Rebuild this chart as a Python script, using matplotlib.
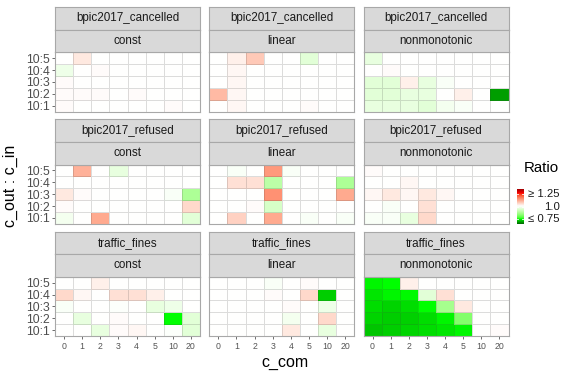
import numpy as np
import matplotlib
matplotlib.use("Agg")
import matplotlib.pyplot as plt
from matplotlib.colors import ListedColormap, Normalize

# ---------------- data ----------------
datasets = ["bpic2017_cancelled", "bpic2017_refused", "traffic_fines"]
methods = ["const", "linear", "nonmonotonic"]
c_com = ["0", "1", "2", "3", "4", "5", "10", "20"]
c_ratio = ["10:5", "10:4", "10:3", "10:2", "10:1"]   # top to bottom

canc_const = [[1.00, 1.03, 1.00, 1.00, 1.00, 1.00, 1.00, 1.00],
              [0.97, 1.00, 1.005, 1.00, 1.00, 1.00, 1.00, 1.00],
              [1.005, 1.00, 1.00, 1.00, 1.00, 1.00, 1.00, 1.00],
              [1.005, 1.005, 1.005, 1.00, 1.005, 1.00, 1.00, 1.00],
              [1.005, 1.00, 1.00, 1.00, 1.00, 1.00, 1.005, 1.00]]
canc_linear = [[1.00, 1.02, 1.07, 1.00, 1.00, 0.95, 1.00, 1.00],
               [1.00, 1.01, 1.00, 1.00, 1.00, 1.00, 1.00, 1.00],
               [1.00, 1.01, 1.00, 1.00, 1.00, 1.00, 1.00, 1.00],
               [1.09, 1.01, 1.00, 1.00, 1.00, 1.00, 1.00, 1.00],
               [1.00, 1.01, 1.00, 1.00, 1.00, 1.005, 1.00, 1.00]]
canc_nonmono = [[0.96, 1.00, 1.00, 1.00, 1.00, 1.00, 1.00, 1.00],
                [1.00, 1.005, 1.00, 1.00, 1.00, 1.00, 1.00, 1.00],
                [0.95, 0.95, 1.02, 0.96, 0.99, 1.00, 1.00, 1.00],
                [0.95, 0.95, 0.96, 0.96, 1.00, 1.02, 1.00, 0.69],
                [0.96, 0.96, 0.96, 0.95, 0.98, 0.99, 1.00, 1.00]]
ref_const = [[1.00, 1.10, 1.00, 0.96, 1.00, 1.00, 1.00, 1.00],
             [1.00, 1.00, 1.00, 1.00, 1.00, 1.00, 1.00, 1.00],
             [1.03, 1.005, 1.00, 1.00, 1.00, 1.00, 0.99, 0.87],
             [1.005, 1.00, 1.00, 1.00, 1.00, 1.00, 1.00, 1.05],
             [0.98, 1.00, 1.11, 1.00, 1.00, 1.00, 1.00, 0.95]]
ref_linear = [[1.00, 0.99, 1.00, 1.13, 0.99, 1.00, 1.00, 1.00],
              [1.00, 1.04, 1.04, 0.89, 1.00, 1.00, 1.00, 0.87],
              [1.00, 1.00, 1.00, 1.14, 1.00, 1.00, 1.00, 1.11],
              [1.00, 1.00, 1.005, 0.93, 1.00, 1.00, 1.00, 1.00],
              [1.00, 1.06, 1.00, 1.11, 1.00, 0.99, 1.00, 0.99]]
ref_nonmono = [[1.005, 1.00, 1.00, 1.00, 1.00, 1.00, 1.00, 1.00],
               [1.00, 1.00, 1.01, 1.00, 1.00, 1.00, 1.00, 1.00],
               [1.01, 1.03, 1.01, 1.03, 1.01, 1.00, 1.00, 1.00],
               [1.00, 0.99, 1.00, 1.04, 1.00, 1.00, 1.00, 1.00],
               [0.99, 0.99, 0.96, 1.05, 1.00, 1.00, 1.00, 1.00]]
traf_const = [[1.00, 1.00, 1.02, 1.00, 1.00, 1.00, 1.00, 1.00],
              [1.05, 1.01, 1.00, 1.04, 1.04, 1.02, 1.00, 1.00],
              [0.99, 1.00, 1.00, 0.995, 1.00, 0.96, 0.97, 1.00],
              [1.00, 0.96, 1.00, 1.005, 1.00, 1.00, 0.75, 0.95],
              [1.00, 1.00, 0.96, 1.005, 1.01, 1.00, 0.995, 0.95]]
traf_linear = [[1.00, 1.00, 1.00, 0.99, 1.00, 1.005, 1.00, 1.00],
               [1.00, 1.00, 1.00, 1.005, 1.00, 1.05, 0.72, 1.00],
               [1.00, 1.00, 1.00, 1.00, 1.005, 1.00, 0.97, 1.00],
               [1.00, 1.00, 1.00, 1.00, 0.98, 1.00, 1.05, 1.00],
               [1.00, 1.00, 1.00, 1.00, 1.03, 1.00, 0.96, 1.00]]
traf_nonmono = [[0.745, 0.75, 1.02, 1.00, 1.00, 1.00, 1.00, 1.00],
                [0.735, 0.745, 0.748, 0.95, 1.04, 1.00, 1.00, 1.00],
                [0.73, 0.725, 0.73, 0.75, 0.86, 1.03, 1.00, 1.00],
                [0.725, 0.72, 0.722, 0.73, 0.745, 0.82, 1.00, 1.00],
                [0.715, 0.72, 0.725, 0.73, 0.735, 0.745, 1.00, 1.005]]

panels = [[canc_const, canc_linear, canc_nonmono],
          [ref_const, ref_linear, ref_nonmono],
          [traf_const, traf_linear, traf_nonmono]]

legend_breaks = [0.75, 1.0, 1.25]
legend_labels = ["\u2264 0.75", "1.0", "\u2265 1.25"]

# ---------------- colour scale (Lab interpolation like ggplot) ----------------
def hex2rgb(h):
    h = h.lstrip("#")
    return np.array([int(h[i:i + 2], 16) / 255 for i in (0, 2, 4)])

M = np.array([[0.4124564, 0.3575761, 0.1804375],
              [0.2126729, 0.7151522, 0.0721750],
              [0.0193339, 0.1191920, 0.9503041]])
WHITE = np.array([0.95047, 1.0, 1.08883])

def rgb2lab(c):
    lin = np.where(c <= 0.04045, c / 12.92, ((c + 0.055) / 1.055) ** 2.4)
    xyz = M @ lin / WHITE
    f = np.where(xyz > 216 / 24389, np.cbrt(xyz), (24389 / 27 * xyz + 16) / 116)
    return np.array([116 * f[1] - 16, 500 * (f[0] - f[1]), 200 * (f[1] - f[2])])

def lab2rgb(lab):
    L, a, b = lab
    fy = (L + 16) / 116
    fx = fy + a / 500
    fz = fy - b / 200
    f = np.array([fx, fy, fz])
    xyz = np.where(f ** 3 > 216 / 24389, f ** 3, (116 * f - 16) / (24389 / 27)) * WHITE
    lin = np.linalg.solve(M, xyz)
    lin = np.clip(lin, 0, 1)
    c = np.where(lin <= 0.0031308, 12.92 * lin, 1.055 * lin ** (1 / 2.4) - 0.055)
    return np.clip(c, 0, 1)

vmin, vmax = 0.65, 1.35
node_v = [0.65, 0.75, 1.0, 1.25, 1.35]
node_c = ["#006400", "#00FF00", "#FFFFFF", "#FF0000", "#8B0000"]
node_lab = [rgb2lab(hex2rgb(c)) for c in node_c]
cols = []
for v in np.linspace(vmin, vmax, 512):
    k = min(np.searchsorted(node_v, v, side="right") - 1, len(node_v) - 2)
    t = (v - node_v[k]) / (node_v[k + 1] - node_v[k])
    cols.append(lab2rgb(node_lab[k] * (1 - t) + node_lab[k + 1] * t))
cmap = ListedColormap(np.array(cols))
norm = Normalize(vmin=vmin, vmax=vmax, clip=True)

# ---------------- layout ----------------
W, H = 575, 374
fig = plt.figure(figsize=(W / 100, H / 100), dpi=100)
plt.rcParams["font.family"] = ["Liberation Sans", "DejaVu Sans"]

def fax(x0, y0, x1, y1):
    return fig.add_axes([x0 / W, 1 - y1 / H, (x1 - x0) / W, (y1 - y0) / H])

panel_left = [55, 209.3, 363.5]
panel_w = 145
panel_top = [52.3, 164.5, 276.7]
panel_h = 59.4
strip_h = 22.6
border = "#A8A8A8"

for r in range(3):
    for c in range(3):
        x0 = panel_left[c]
        y0 = panel_top[r]
        ax = fax(x0, y0, x0 + panel_w, y0 + panel_h)
        data = np.flipud(np.array(panels[r][c]))
        ax.pcolormesh(np.arange(len(c_com) + 1), np.arange(len(c_ratio) + 1), data,
                      cmap=cmap, norm=norm, edgecolors=(0.25, 0.25, 0.25, 0.18),
                      linewidth=0.6)
        ax.set_xlim(0, len(c_com))
        ax.set_ylim(0, len(c_ratio))
        ax.set_xticks(np.arange(len(c_com)) + 0.5)
        ax.set_yticks(np.arange(len(c_ratio)) + 0.5)
        ax.tick_params(length=2.5, width=0.6, color="#555555", pad=1.5)
        if r == 2:
            ax.set_xticklabels(c_com, fontsize=6.3, color="#555555")
        else:
            ax.tick_params(axis="x", length=0, labelbottom=False)
        if c == 0:
            ax.set_yticklabels(c_ratio[::-1], fontsize=8.8, color="#4D4D4D")
        else:
            ax.tick_params(axis="y", length=0, labelleft=False)
        for s in ax.spines.values():
            s.set_color(border)
            s.set_linewidth(0.8)
        # strips
        for k, txt in enumerate([datasets[r], methods[c]]):
            sy0 = y0 - strip_h * (2 - k)
            sax = fax(x0, sy0, x0 + panel_w, sy0 + strip_h)
            sax.set_facecolor("#D9D9D9")
            sax.set_xticks([])
            sax.set_yticks([])
            for s in sax.spines.values():
                s.set_color(border)
                s.set_linewidth(0.8)
            sax.text(0.5, 0.5, txt, ha="center", va="center", fontsize=8.4,
                     color="#1A1A1A", transform=sax.transAxes)

# axis titles
fig.text(285 / W, 1 - 362 / H, "c_com", ha="center", va="center", fontsize=11.5,
         color="#000000")
fig.text(10 / W, 1 - 186 / H, "c_out : c_in", ha="center", va="center",
         fontsize=11.5, rotation=90, color="#000000")

# legend
fig.text(524 / W, 1 - 168 / H, "Ratio", ha="left", va="center", fontsize=10.8)
cax = fax(517, 189, 523.5, 224.5)
grad = np.linspace(vmax, vmin, 300).reshape(-1, 1)
cax.imshow(grad, aspect="auto", cmap=cmap, norm=norm,
           extent=[0, 1, vmin, vmax], origin="upper")
cax.set_ylim(vmin, vmax)
cax.set_xlim(0, 1)
cax.axis("off")
for b in legend_breaks:
    cax.plot([0, 0.2], [b, b], color="white", lw=0.6)
    cax.plot([0.8, 1], [b, b], color="white", lw=0.6)
for b, lab in zip(legend_breaks, legend_labels):
    yy = 189 + (vmax - b) / (vmax - vmin) * 35.5
    fig.text(560 / W, 1 - yy / H, lab, ha="right", va="center", fontsize=8.2,
             color="#1A1A1A")

fig.savefig("out.png", dpi=100)
